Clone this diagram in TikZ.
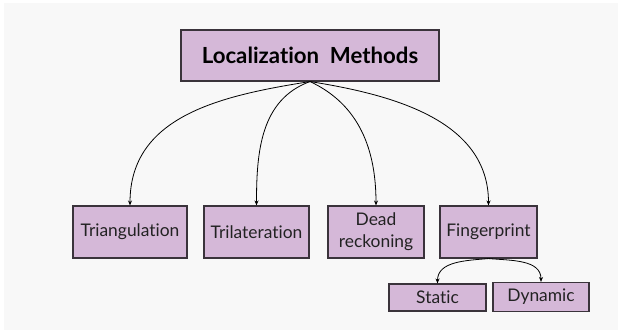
\documentclass[tikz,border=0pt]{standalone}
\usepackage{fontspec}
\setmainfont{Lato}[Ligatures={NoCommon}]
\usetikzlibrary{arrows.meta}
\definecolor{boxfill}{HTML}{D5B8D8}
\definecolor{boxline}{HTML}{3A333B}
\definecolor{bg}{HTML}{F8F8F8}
\definecolor{txt}{HTML}{222222}
\tikzset{
  box/.style={draw=boxline, line width=1.1pt, fill=boxfill, text=txt, inner sep=0pt, align=center, font=\fontsize{17.4}{22}\selectfont},
  conn/.style={draw=black, line width=0.8pt, -{Stealth[length=5pt,width=4pt]}}
}
\begin{document}
\begin{tikzpicture}[x=1pt,y=-1pt]
\useasboundingbox (0,0) rectangle (618,333);
\fill[white] (0,0) rectangle (618,333);
\fill[bg] (4,3) rectangle (618,330);
\node[box, minimum width=258pt, minimum height=51pt, font=\fontsize{22.2}{26}\selectfont\bfseries, text=black] (title) at (310,55.5) {Localization\ \ Methods};
\node[box, minimum width=114pt, minimum height=52pt] (tri) at (130,232) {Triangulation};
\node[box, minimum width=105pt, minimum height=52pt] (tril) at (256.5,232) {Trilateration};
\node[box, minimum width=96pt, minimum height=52pt] (dead) at (376,232) {Dead\\reckoning};
\node[box, minimum width=97pt, minimum height=52pt] (fing) at (488.5,232) {Fingerprint};
\node[box, minimum width=97pt, minimum height=27pt] (stat) at (437.5,297.5) {Static};
\node[box, minimum width=96pt, minimum height=29pt] (dyn) at (541,297) {Dynamic};
\draw[conn] (title.south) to[out=189,in=90,looseness=1.05] (tri.north);
\draw[conn] (title.south) to[out=200,in=90,looseness=1] (tril.north);
\draw[conn] (title.south) to[out=-25,in=90,looseness=1] (dead.north);
\draw[conn] (title.south) to[out=-9,in=90,looseness=1] (fing.north);
\draw[conn] (fing.south) to[out=185,in=90,looseness=1] (stat.north);
\draw[conn] (fing.south) to[out=-5,in=90,looseness=1] (dyn.north);
\end{tikzpicture}
\end{document}
